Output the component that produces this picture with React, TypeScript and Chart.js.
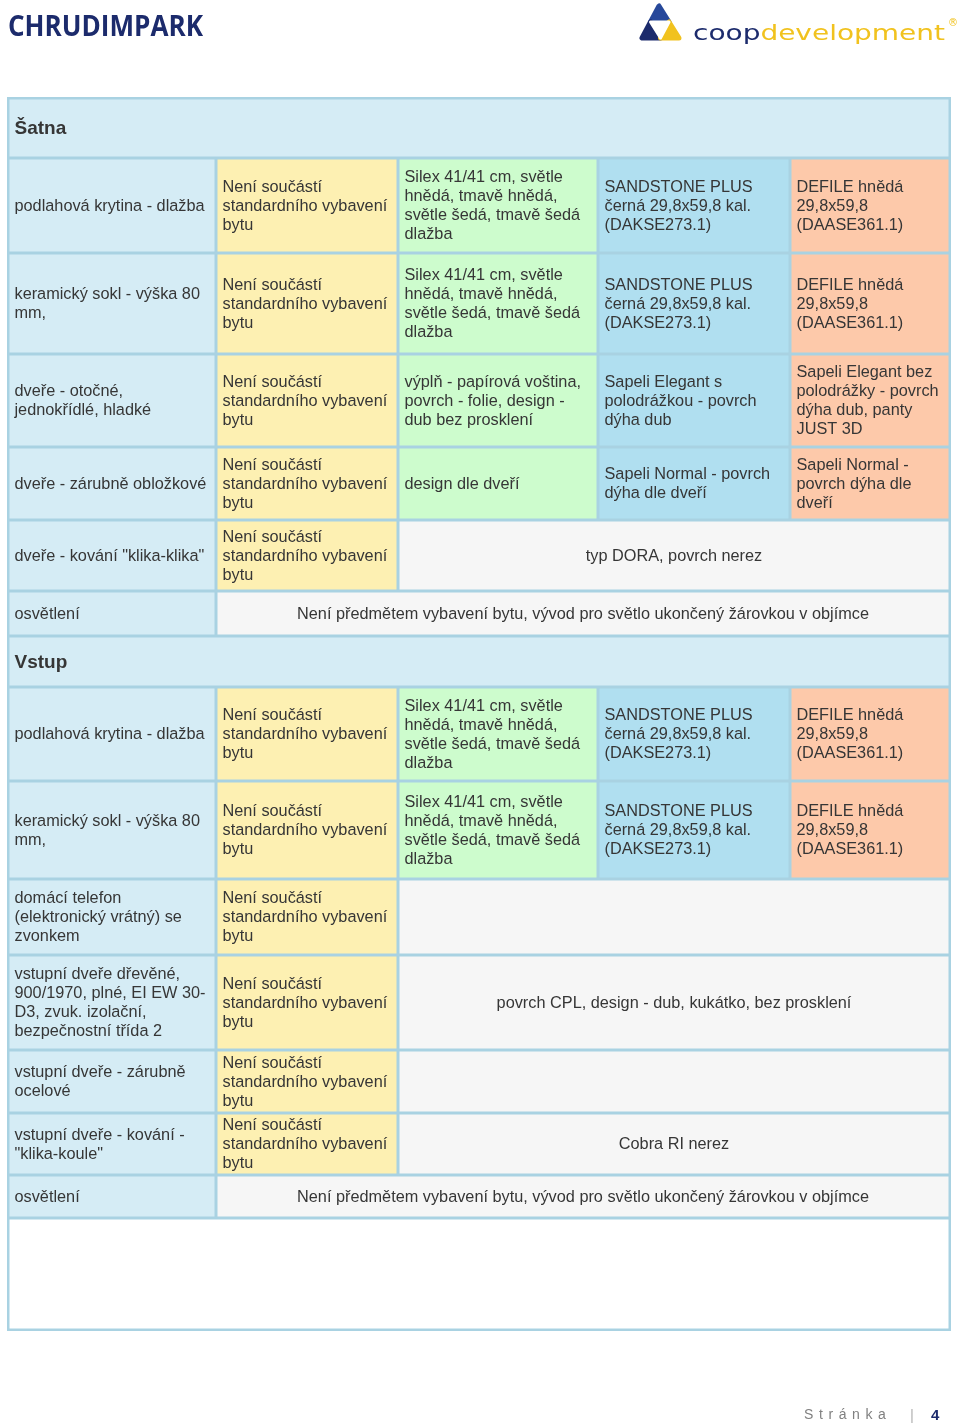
import React, { useEffect, useRef } from "react";
import { Chart, registerables } from "chart.js";

Chart.register(...registerables);

// ---------------- data ----------------
const NS = "Není součástí\nstandardního vybavení\nbytu";
const LIGHT = "Není předmětem vybavení bytu, vývod pro světlo ukončený žárovkou v objímce";
const SILEX = "Silex 41/41 cm, světle\nhnědá, tmavě hnědá,\nsvětle šedá, tmavě šedá\ndlažba";
const SANDSTONE = "SANDSTONE PLUS\nčerná 29,8x59,8 kal.\n(DAKSE273.1)";
const DEFILE = "DEFILE hnědá\n29,8x59,8\n(DAASE361.1)";

const sectionTitles = ["Šatna", "Vstup"];

const satnaItems = [
  "podlahová krytina - dlažba",
  "keramický sokl - výška 80\nmm,",
  "dveře - otočné,\njednokřídlé, hladké",
  "dveře - zárubně obložkové",
  "dveře - kování \"klika-klika\"",
  "osvětlení",
];
const satnaBasic = [NS, NS, NS, NS, NS, null];
const satnaStandard = [
  SILEX,
  SILEX,
  "výplň - papírová voština,\npovrch - folie, design -\ndub bez prosklení",
  "design dle dveří",
  null,
  null,
];
const satnaPlus = [
  SANDSTONE,
  SANDSTONE,
  "Sapeli Elegant s\npolodrážkou - povrch\ndýha dub",
  "Sapeli Normal - povrch\ndýha dle dveří",
  null,
  null,
];
const satnaPremium = [
  DEFILE,
  DEFILE,
  "Sapeli Elegant bez\npolodrážky - povrch\ndýha dub, panty\nJUST 3D",
  "Sapeli Normal -\npovrch dýha dle\ndveří",
  null,
  null,
];
const satnaCommon = [null, null, null, null, "typ DORA, povrch nerez", LIGHT];

const vstupItems = [
  "podlahová krytina - dlažba",
  "keramický sokl - výška 80\nmm,",
  "domácí telefon\n(elektronický vrátný) se\nzvonkem",
  "vstupní dveře dřevěné,\n900/1970, plné, EI EW 30-\nD3, zvuk. izolační,\nbezpečnostní třída 2",
  "vstupní dveře - zárubně\nocelové",
  "vstupní dveře - kování -\n\"klika-koule\"",
  "osvětlení",
];
const vstupBasic = [NS, NS, NS, NS, NS, NS, null];
const vstupStandard = [SILEX, SILEX, null, null, null, null, null];
const vstupPlus = [SANDSTONE, SANDSTONE, null, null, null, null, null];
const vstupPremium = [DEFILE, DEFILE, null, null, null, null, null];
const vstupCommon = [
  null,
  null,
  "",
  "povrch CPL, design - dub, kukátko, bez prosklení",
  "",
  "Cobra RI nerez",
  LIGHT,
];

// ---------------- layout & style ----------------
const COL_EDGES = [8, 216, 398, 598, 790, 950];
const ROW_EDGES = [98, 158, 253, 354, 447, 520, 591, 636, 687, 781, 879, 955, 1050, 1113, 1175, 1218, 1330];
const COL_FILLS = ["#d5ecf5", "#fdf0b2", "#cdfccd", "#b0dff0", "#fdc9aa"];
const SHARED_FILL = "#f6f6f6";
const BLANK_FILL = "#ffffff";
const BORDER = "#a9d2e2";
const TEXT = "#363636";
const NAVY = "#1c2b6c";
const GOLD = "#f1c21e";
const CELL_FONT = '16.3px "Liberation Sans", Arial, sans-serif';
const HEAD_FONT = 'bold 19px "Liberation Sans", Arial, sans-serif';

type Cell = { c0: number; c1: number; text: string; fill: string; center: boolean; bold?: boolean };

function buildSection(
  title: string,
  items: string[],
  basic: (string | null)[],
  standard: (string | null)[],
  plus: (string | null)[],
  premium: (string | null)[],
  common: (string | null)[]
): Cell[][] {
  const rows: Cell[][] = [[{ c0: 0, c1: 5, text: title, fill: COL_FILLS[0], center: false, bold: true }]];
  items.forEach((item, i) => {
    const cols = [basic[i], standard[i], plus[i], premium[i]];
    const row: Cell[] = [{ c0: 0, c1: 1, text: item, fill: COL_FILLS[0], center: false }];
    let firstNull = cols.findIndex((c) => c === null);
    if (firstNull < 0) firstNull = 4;
    for (let k = 0; k < firstNull; k++) {
      row.push({ c0: k + 1, c1: k + 2, text: cols[k] as string, fill: COL_FILLS[k + 1], center: false });
    }
    if (firstNull < 4) {
      row.push({ c0: firstNull + 1, c1: 5, text: common[i] ?? "", fill: SHARED_FILL, center: true });
    }
    rows.push(row);
  });
  return rows;
}

const tableRows: Cell[][] = [
  ...buildSection(sectionTitles[0], satnaItems, satnaBasic, satnaStandard, satnaPlus, satnaPremium, satnaCommon),
  ...buildSection(sectionTitles[1], vstupItems, vstupBasic, vstupStandard, vstupPlus, vstupPremium, vstupCommon),
  [{ c0: 0, c1: 5, text: "", fill: BLANK_FILL, center: false }],
];

const tablePlugin = {
  id: "tableCells",
  afterDraw(chart: any) {
    const { ctx } = chart;
    const xs = chart.scales.x;
    const ys = chart.scales.y;
    const px = (v: number) => xs.getPixelForValue(v);
    const py = (v: number) => ys.getPixelForValue(v);
    ctx.save();
    ctx.fillStyle = BORDER;
    const L = px(COL_EDGES[0]) - 1;
    const R = px(COL_EDGES[COL_EDGES.length - 1]) + 1;
    const T = py(ROW_EDGES[0]) - 1;
    const B = py(ROW_EDGES[ROW_EDGES.length - 1]) + 1;
    ctx.fillRect(L, T, R - L, B - T);
    const inset = 1.5;
    const lh = 19;
    tableRows.forEach((row, r) => {
      const y0 = py(ROW_EDGES[r]);
      const y1 = py(ROW_EDGES[r + 1]);
      row.forEach((cell) => {
        const x0 = px(COL_EDGES[cell.c0]);
        const x1 = px(COL_EDGES[cell.c1]);
        ctx.fillStyle = cell.fill;
        ctx.fillRect(x0 + inset, y0 + inset, x1 - x0 - 2 * inset, y1 - y0 - 2 * inset);
        if (!cell.text) return;
        ctx.fillStyle = TEXT;
        ctx.font = cell.bold ? HEAD_FONT : CELL_FONT;
        ctx.textBaseline = "middle";
        ctx.textAlign = cell.center ? "center" : "left";
        const lines = cell.text.split("\n");
        const cy = (y0 + y1) / 2;
        const tx = cell.center ? (x0 + x1) / 2 : x0 + 6.5;
        lines.forEach((ln, i) => {
          ctx.fillText(ln, tx, cy + (i - (lines.length - 1) / 2) * lh + 1);
        });
      });
    });
    ctx.restore();
  },
};

const pagePlugin = {
  id: "pageDecor",
  afterDraw(chart: any) {
    const { ctx } = chart;
    ctx.save();
    // title
    ctx.fillStyle = NAVY;
    ctx.textBaseline = "alphabetic";
    ctx.textAlign = "left";
    ctx.font = 'bold 29px "Open Sans", sans-serif';
    const title = "CHRUDIMPARK";
    const tw = ctx.measureText(title).width;
    ctx.save();
    ctx.translate(8, 36);
    ctx.scale(195 / tw, 1);
    ctx.fillText(title, 0, 0);
    ctx.restore();

    // logo icon
    const T = [659, 6];
    const Lp = [642, 38];
    const Rp = [679, 38];
    const mid = (a: number[], b: number[]) => [(a[0] + b[0]) / 2, (a[1] + b[1]) / 2];
    const mTL = mid(T, Lp);
    const mTR = mid(T, Rp);
    const mLR = mid(Lp, Rp);
    const tri = (pts: number[][], color: string) => {
      ctx.beginPath();
      ctx.moveTo(pts[0][0], pts[0][1]);
      ctx.lineTo(pts[1][0], pts[1][1]);
      ctx.lineTo(pts[2][0], pts[2][1]);
      ctx.closePath();
      ctx.fillStyle = color;
      ctx.strokeStyle = color;
      ctx.lineJoin = "round";
      ctx.lineWidth = 5;
      ctx.stroke();
      ctx.fill();
    };
    tri([T, mTL, mTR], "#27489a");
    tri([mTL, Lp, mLR], NAVY);
    tri([mTR, mLR, Rp], GOLD);
    ctx.beginPath();
    ctx.moveTo(mTL[0], mTL[1]);
    ctx.lineTo(mTR[0], mTR[1]);
    ctx.lineTo(mLR[0], mLR[1]);
    ctx.closePath();
    ctx.fillStyle = "#ffffff";
    ctx.strokeStyle = "#ffffff";
    ctx.lineJoin = "round";
    ctx.lineWidth = 3;
    ctx.stroke();
    ctx.fill();

    // logo text
    ctx.font = '22px "DejaVu Sans", sans-serif';
    const w1 = ctx.measureText("coop").width;
    const w2 = ctx.measureText("development").width;
    const sx = 252 / (w1 + w2);
    ctx.save();
    ctx.translate(693, 40);
    ctx.scale(sx, 1);
    ctx.fillStyle = NAVY;
    ctx.fillText("coop", 0, 0);
    ctx.fillStyle = GOLD;
    ctx.fillText("development", w1, 0);
    ctx.restore();
    ctx.fillStyle = GOLD;
    ctx.font = '10px "DejaVu Sans", sans-serif';
    ctx.fillText("®", 948, 26);

    // footer
    ctx.save();
    ctx.fillStyle = "#808080";
    ctx.font = '14px "Liberation Sans", Arial, sans-serif';
    (ctx as any).letterSpacing = "5.6px";
    ctx.fillText("Stránka", 804, 1419);
    ctx.restore();
    ctx.fillStyle = "#b5b5b5";
    ctx.font = '15px "Liberation Sans", Arial, sans-serif';
    ctx.fillText("|", 910, 1420);
    ctx.fillStyle = NAVY;
    ctx.font = 'bold 15px "Liberation Sans", Arial, sans-serif';
    ctx.fillText("4", 931, 1420);
    ctx.restore();
  },
};

export default function App() {
  const ref = useRef<HTMLCanvasElement>(null);
  useEffect(() => {
    document.body.style.margin = "0";
    const chart = new Chart(ref.current as HTMLCanvasElement, {
      type: "scatter",
      data: { datasets: [] },
      options: {
        responsive: false,
        animation: false,
        events: [],
        layout: { padding: 0 },
        plugins: { legend: { display: false }, tooltip: { enabled: false }, title: { display: false } },
        scales: {
          x: { type: "linear", min: 0, max: 960, display: false },
          y: { type: "linear", min: 0, max: 1425, reverse: true, display: false },
        },
      },
      plugins: [tablePlugin, pagePlugin],
    });
    return () => chart.destroy();
  }, []);
  return (
    <div style={{ width: 960, height: 1425, background: "#ffffff" }}>
      <canvas ref={ref} width={960} height={1425} style={{ display: "block" }} />
    </div>
  );
}
